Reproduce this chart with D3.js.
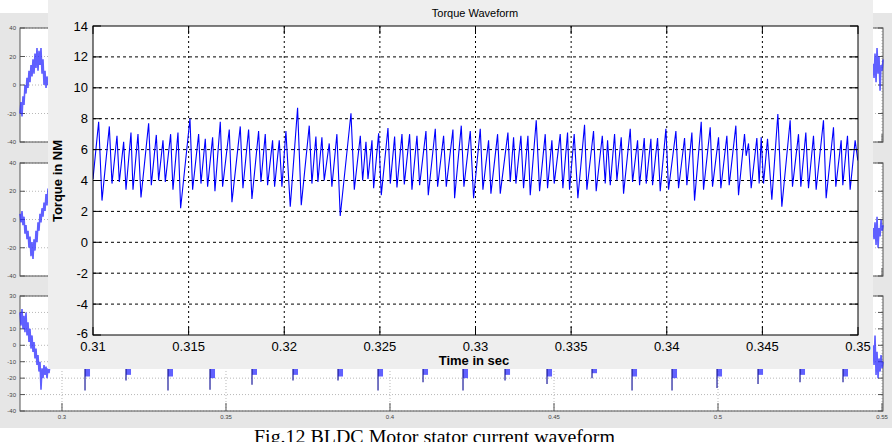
<!DOCTYPE html>
<html>
<head>
<meta charset="utf-8">
<script src="https://cdn.jsdelivr.net/npm/d3@7"></script>
<style>
  body { margin: 0; background: #fff; }
  svg { display: block; }
</style>
</head>
<body>
<svg id="chart" width="892" height="442"></svg>
<script>
// ---- torque waveform (front figure) ----
const torqueTimeMs = [
  310.000, 310.296, 310.470, 310.854, 310.993, 311.254, 311.376, 311.603, 311.725, 311.986,
  312.091, 312.352, 312.509, 312.909, 313.049, 313.310, 313.432, 313.659, 313.780, 314.059,
  314.181, 314.443, 314.582, 315.070, 315.209, 315.523, 315.645, 315.871, 315.993, 316.254,
  316.376, 316.655, 316.777, 317.125, 317.265, 317.700, 317.840, 318.136, 318.310, 318.659,
  318.780, 319.007, 319.129, 319.390, 319.495, 319.739, 319.878, 320.087, 320.314, 320.697,
  320.889, 321.307, 321.446, 321.655, 321.760, 321.969, 322.091, 322.352, 322.491, 322.753,
  322.927,
  323.489, 323.663, 323.977, 324.099, 324.273, 324.378, 324.587, 324.674, 324.935, 325.074,
  325.423, 325.545, 325.771, 325.893, 326.155, 326.277, 326.555, 326.677, 326.939, 327.078,
  327.409, 327.531, 327.897, 328.019, 328.332, 328.472, 328.820, 328.907, 329.256, 329.395,
  329.726, 329.900, 330.249, 330.388, 330.684, 330.806, 331.155, 331.294, 331.695, 331.817,
  331.991, 332.113, 332.374, 332.513, 332.740, 332.862, 333.176, 333.350, 333.646, 333.768,
  333.994, 334.116, 334.430, 334.569, 334.813, 334.918, 335.161, 335.353, 335.702, 335.824,
  336.172, 336.311,
  336.630, 336.784, 336.906, 337.046, 337.272, 337.394, 337.620, 337.742, 338.091, 338.213,
  338.474, 338.579, 338.823, 338.927, 339.171, 339.258, 339.519, 339.659, 339.955, 340.094,
  340.478, 340.617, 340.931, 341.052, 341.314, 341.453, 341.802, 341.924, 342.272, 342.394,
  342.708, 342.830, 343.143, 343.265, 343.613, 343.753, 344.066, 344.153, 344.275, 344.415,
  344.711, 344.833, 344.938, 345.060, 345.269, 345.495, 345.809, 346.018, 346.453, 346.575,
  346.889, 347.011, 347.272, 347.411, 347.673, 347.812, 348.195, 348.335, 348.718, 348.840,
  349.119, 349.206, 349.450, 349.589, 349.850, 349.990
];
const torqueNm = [
  4.1, 7.8, 2.7, 7.5, 3.8, 6.9, 3.9, 6.5, 3.4, 7.1,
  3.4, 7.0, 2.9, 7.7, 3.7, 6.95, 4.0, 6.6, 3.9, 7.0,
  3.4, 7.1, 2.2, 8.0, 3.4, 7.0, 3.8, 6.7, 3.6, 6.8,
  3.3, 7.8, 3.6, 7.3, 2.6, 7.5, 3.5, 7.3, 2.8, 7.2,
  3.9, 7.0, 3.7, 6.6, 3.6, 6.6, 3.6, 7.2, 2.3, 8.7,
  2.4, 7.55, 3.8, 6.85, 3.9, 6.8, 4.0, 6.4, 3.6, 7.0,
  1.7,
  8.35, 3.4, 6.9, 4.0, 6.5, 4.1, 6.6, 3.5, 7.05, 3.05,
  7.4, 3.8, 6.85, 3.55, 7.0, 3.75, 7.0, 3.4, 6.9, 3.7,
  7.2, 3.05, 7.35, 3.6, 6.9, 3.6, 7.3, 2.85, 7.55, 3.6,
  7.2, 2.85, 7.35, 3.4, 6.6, 3.15, 7.0, 3.15, 7.1, 3.9,
  6.8, 3.8, 6.9, 3.5, 6.9, 3.05, 7.9, 3.3, 7.0, 3.5,
  6.6, 3.8, 7.0, 3.5, 7.1, 3.4, 7.0, 2.85, 7.6, 3.4,
  7.2, 3.3,
  6.9, 3.8, 6.6, 3.7, 7.0, 4.0, 6.8, 3.15, 7.35, 3.9,
  6.6, 3.7, 6.75, 3.8, 6.7, 3.7, 6.75, 3.3, 7.35, 3.4,
  7.2, 3.5, 6.75, 3.7, 7.1, 2.7, 7.8, 3.4, 7.45, 3.6,
  6.8, 3.5, 6.9, 3.7, 7.55, 3.05, 7.0, 5.6, 6.4, 3.5,
  6.75, 3.8, 6.8, 3.8, 6.7, 2.75, 8.3, 2.3, 7.9, 3.6,
  7.0, 3.6, 7.1, 3.5, 6.9, 3.4, 7.9, 2.85, 7.45, 3.6,
  6.6, 3.7, 6.9, 3.4, 6.6, 5.3
];
const xTicks = [0.31, 0.315, 0.32, 0.325, 0.33, 0.335, 0.34, 0.345, 0.35];
const xTickLabels = ['0.31', '0.315', '0.32', '0.325', '0.33', '0.335', '0.34', '0.345', '0.35'];
const yTicks = [-6, -4, -2, 0, 2, 4, 6, 8, 10, 12, 14];

// ---- stator current figure (behind, only its edges show) ----
const bgXTicks = [0.3, 0.35, 0.4, 0.45, 0.5, 0.55];
const bgXTickLabels = ['0.3', '0.35', '0.4', '0.45', '0.5', '0.55'];
const bgYTicksAB = [-40, -20, 0, 20, 40];
const bgYTicksC = [-40, -30, -20, -10, 0, 10, 20, 30];

const leftEdgeTime = [
  0.28720, 0.28750, 0.28781, 0.28811, 0.28842, 0.28872, 0.28903, 0.28933, 0.28964, 0.28994,
  0.29025, 0.29055, 0.29086, 0.29116, 0.29147, 0.29177, 0.29208, 0.29238, 0.29269, 0.29299,
  0.29330, 0.29360, 0.29391, 0.29421, 0.29452, 0.29482, 0.29513, 0.29543, 0.29574, 0.29604,
  0.29635
];
const phaseALeft = [-20, -12, -22, -8, -14, 0, -6, 5, -2, 10, 2, 14, 6, 18, 8, 22, 12, 26, 10, 24,
  14, 26, 8, 18, 0, 10, -2, 6, 0, 4, 2];
const phaseBLeft = [4, -2, 6, -4, 2, -10, -4, -14, -8, -20, -12, -26, -16, -28, -14, -22, -8, -16, -2, -8,
  4, -2, 8, 2, 12, 6, 18, 10, 22, 14, 20];
const phaseCLeft = [20, 12, 22, 10, 18, 8, 20, 6, 14, 2, 10, -2, 6, -4, 2, -8, -2, -12, -6, -16,
  -10, -27, -14, -20, -12, -18, -13, -20, -14, -17, -12];

const rightEdgeTime = [0.54726, 0.54757, 0.54787, 0.54818, 0.54848, 0.54879, 0.54909, 0.54940,
  0.54970, 0.55001, 0.55031];
const phaseARight = [15, 5, 22, 2, 26, 8, 20, -4, 14, 10, 18];
const phaseBRight = [-6, -14, -2, -18, 2, -20, -6, -12, 0, -8, -4];
const phaseCRight = [0, -12, 6, -18, -4, -20, -8, -16, -6, -14, -10];

// phase C commutation dips below the front figure
const dipTime = [0.30702, 0.31952, 0.33232, 0.34513, 0.35793, 0.37043, 0.38415, 0.39635, 0.41007, 0.42226,
  0.43507, 0.44787, 0.46159, 0.47379, 0.48598, 0.49970, 0.51220, 0.52500, 0.53811];
const dipMin = [-27.5, -21.5, -27.5, -27, -24, -21.5, -21.5, -27.5, -22.5, -27.5,
  -21.5, -23.5, -20, -27.5, -27.5, -26, -23.5, -22.5, -22.5];
const dipBlob = [-19, -18, -19, -20, -18, -18, -19, -19, -18, -20,
  -18, -19, -17, -19, -20, -19, -18, -18, -19];

const svg = d3.select('#chart');

// ================= background figure =================
svg.append('rect').attr('x', 0).attr('y', 13).attr('width', 892).attr('height', 415).attr('fill', '#e6e6e6');

const bgX = d3.scaleLinear().domain([0.2872, 0.5503]).range([20, 883]);
const bgPanels = [
  { top: 28, bottom: 142, domain: [-40, 40], ticks: bgYTicksAB, left: phaseALeft, right: phaseARight },
  { top: 163, bottom: 276, domain: [-40, 40], ticks: bgYTicksAB, left: phaseBLeft, right: phaseBRight },
  { top: 296, bottom: 411, domain: [-40, 30], ticks: bgYTicksC, left: phaseCLeft, right: phaseCRight }
];

bgPanels.forEach((p, i) => {
  const y = d3.scaleLinear().domain(p.domain).range([p.bottom, p.top]);
  const g = svg.append('g');
  g.append('rect').attr('x', 20).attr('y', p.top).attr('width', 863).attr('height', p.bottom - p.top).attr('fill', '#fff');

  // dotted grid
  g.selectAll('.hg').data(p.ticks).join('line')
    .attr('x1', 20).attr('x2', 883).attr('y1', d => y(d)).attr('y2', d => y(d))
    .attr('stroke', '#b8b8b8').attr('stroke-dasharray', '1,2');
  g.selectAll('.vg').data(bgXTicks).join('line')
    .attr('x1', d => bgX(d)).attr('x2', d => bgX(d)).attr('y1', p.top).attr('y2', p.bottom)
    .attr('stroke', '#b8b8b8').attr('stroke-dasharray', '1,2');

  // ticks
  g.selectAll('.yt').data(p.ticks).join('line')
    .attr('x1', 20).attr('x2', 25).attr('y1', d => y(d)).attr('y2', d => y(d)).attr('stroke', '#555');
  g.selectAll('.yt2').data(p.ticks).join('line')
    .attr('x1', 878).attr('x2', 883).attr('y1', d => y(d)).attr('y2', d => y(d)).attr('stroke', '#555');
  g.selectAll('.xt').data(bgXTicks).join('line')
    .attr('x1', d => bgX(d)).attr('x2', d => bgX(d)).attr('y1', p.bottom - 8).attr('y2', p.bottom).attr('stroke', '#555');

  g.append('rect').attr('x', 20).attr('y', p.top).attr('width', 863).attr('height', p.bottom - p.top)
    .attr('fill', 'none').attr('stroke', '#555').attr('stroke-width', 1);

  g.selectAll('.yl').data(p.ticks).join('text')
    .attr('x', 16).attr('y', d => y(d) + 2)
    .attr('text-anchor', 'end').attr('font-family', 'Liberation Sans, Arial, sans-serif')
    .attr('font-size', 6).attr('fill', '#444').text(d => d);

  // current traces
  const line = d3.line().x(d => bgX(d[0])).y(d => y(d[1]));
  g.append('path').datum(leftEdgeTime.map((t, k) => [t, p.left[k]]))
    .attr('d', line).attr('fill', 'none').attr('stroke', '#2b2bff').attr('stroke-width', 1.6).attr('opacity', 0.75);
  g.append('path').datum(rightEdgeTime.map((t, k) => [t, p.right[k]]))
    .attr('d', line).attr('fill', 'none').attr('stroke', '#2b2bff').attr('stroke-width', 1.6).attr('opacity', 0.75);

  if (i === 2) {
    const dips = dipTime.map((t, k) => ({ t, min: dipMin[k], blob: dipBlob[k] }));
    g.selectAll('.dipblob').data(dips).join('rect')
      .attr('x', d => bgX(d.t)).attr('y', y(-12))
      .attr('width', 5).attr('height', d => y(d.blob) - y(-12))
      .attr('fill', '#3a3aff').attr('opacity', 0.8);
    g.selectAll('.dipline').data(dips).join('line')
      .attr('x1', d => bgX(d.t)).attr('x2', d => bgX(d.t))
      .attr('y1', y(-12)).attr('y2', d => y(d.min))
      .attr('stroke', '#1a1a9a').attr('stroke-width', 1.2);

    svg.selectAll('.bxl').data(bgXTicks).join('text')
      .attr('x', (d) => bgX(d)).attr('y', p.bottom + 8)
      .attr('text-anchor', 'middle').attr('font-family', 'Liberation Sans, Arial, sans-serif')
      .attr('font-size', 6).attr('fill', '#444')
      .text((d, k) => bgXTickLabels[k]);
  }
});

// ================= front figure =================
svg.append('rect').attr('x', 48).attr('y', 0).attr('width', 825).attr('height', 369).attr('fill', '#eeeeee');

const margin = { top: 26, right: 858, bottom: 335, left: 93 };
const x = d3.scaleLinear().domain([0.31, 0.35]).range([margin.left, margin.right]);
const y = d3.scaleLinear().domain([-6, 14]).range([margin.bottom, margin.top]);

const plot = svg.append('g');
plot.append('rect')
  .attr('x', margin.left).attr('y', margin.top)
  .attr('width', margin.right - margin.left).attr('height', margin.bottom - margin.top)
  .attr('fill', '#fff');

// grid
plot.selectAll('.hgrid').data(yTicks.slice(1, -1)).join('line')
  .attr('x1', margin.left).attr('x2', margin.right)
  .attr('y1', d => y(d)).attr('y2', d => y(d))
  .attr('stroke', '#000').attr('stroke-dasharray', '3,3').attr('stroke-width', 1);
plot.selectAll('.vgrid').data(xTicks.slice(1, -1)).join('line')
  .attr('x1', d => x(d)).attr('x2', d => x(d))
  .attr('y1', margin.top).attr('y2', margin.bottom)
  .attr('stroke', '#000').attr('stroke-dasharray', '2,3').attr('stroke-width', 1);

// torque line
svg.append('clipPath').attr('id', 'clip').append('rect')
  .attr('x', margin.left).attr('y', margin.top)
  .attr('width', margin.right - margin.left).attr('height', margin.bottom - margin.top);
const torqueData = torqueTimeMs.map((t, i) => ({ t: t / 1000, v: torqueNm[i] }));
plot.append('path').datum(torqueData)
  .attr('clip-path', 'url(#clip)')
  .attr('d', d3.line().x(d => x(d.t)).y(d => y(d.v)))
  .attr('fill', 'none').attr('stroke', '#0000ff').attr('stroke-width', 1.1);

// inward ticks, all four sides
const tickLen = 8;
plot.selectAll('.txb').data(xTicks).join('line')
  .attr('x1', d => x(d)).attr('x2', d => x(d)).attr('y1', margin.bottom).attr('y2', margin.bottom - tickLen)
  .attr('stroke', '#000');
plot.selectAll('.txt').data(xTicks).join('line')
  .attr('x1', d => x(d)).attr('x2', d => x(d)).attr('y1', margin.top).attr('y2', margin.top + tickLen)
  .attr('stroke', '#000');
plot.selectAll('.tyl').data(yTicks).join('line')
  .attr('x1', margin.left).attr('x2', margin.left + tickLen).attr('y1', d => y(d)).attr('y2', d => y(d))
  .attr('stroke', '#000');
plot.selectAll('.tyr').data(yTicks).join('line')
  .attr('x1', margin.right - tickLen).attr('x2', margin.right).attr('y1', d => y(d)).attr('y2', d => y(d))
  .attr('stroke', '#000');

plot.append('rect')
  .attr('x', margin.left).attr('y', margin.top)
  .attr('width', margin.right - margin.left).attr('height', margin.bottom - margin.top)
  .attr('fill', 'none').attr('stroke', '#000').attr('stroke-width', 1);

// tick labels
const font = 'Liberation Sans, Arial, Helvetica, sans-serif';
plot.selectAll('.xl').data(xTicks).join('text')
  .attr('x', d => x(d)).attr('y', margin.bottom + 16)
  .attr('text-anchor', 'middle').attr('font-family', font).attr('font-size', 13).attr('fill', '#000')
  .text((d, i) => xTickLabels[i]);
plot.selectAll('.yl').data(yTicks).join('text')
  .attr('x', margin.left - 5).attr('y', d => y(d) + (d === -6 ? 3 : 4.5))
  .attr('text-anchor', 'end').attr('font-family', font).attr('font-size', 13).attr('fill', '#000')
  .text(d => d);

// titles
svg.append('text').attr('x', 475).attr('y', 17)
  .attr('text-anchor', 'middle').attr('font-family', font).attr('font-size', 11).attr('fill', '#000')
  .text('Torque Waveform');
svg.append('text').attr('x', 474).attr('y', 365)
  .attr('text-anchor', 'middle').attr('font-family', font).attr('font-size', 13)
  .attr('font-weight', 'bold').attr('fill', '#000')
  .text('Time in sec');
svg.append('text')
  .attr('transform', 'translate(62,181) rotate(-90)')
  .attr('text-anchor', 'middle').attr('font-family', font).attr('font-size', 13)
  .attr('font-weight', 'bold').attr('fill', '#000')
  .text('Torque in NM');

// caption of the underlying figure (cut by the lower edge, as in the source)
svg.append('text').attr('x', 254).attr('y', 443)
  .attr('font-family', 'Liberation Serif, Times New Roman, serif').attr('font-size', 19).attr('fill', '#000')
  .attr('textLength', 361).attr('lengthAdjust', 'spacingAndGlyphs')
  .text('Fig.12 BLDC Motor stator current waveform');
</script>
</body>
</html>
